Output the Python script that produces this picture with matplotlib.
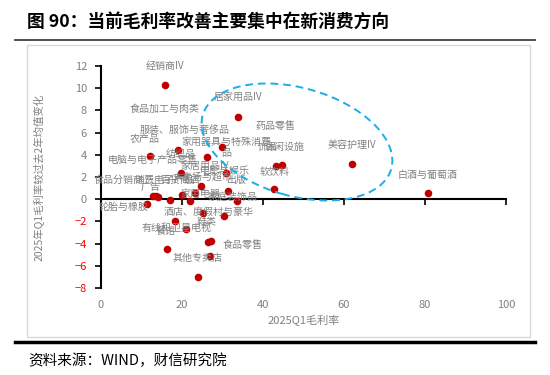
import matplotlib
matplotlib.use("Agg")
import matplotlib.pyplot as plt
from matplotlib.patches import Ellipse, Rectangle
from matplotlib.lines import Line2D

plt.rcParams["font.family"] = ["Noto Sans CJK SC", "DejaVu Sans"]

# Wind consumer industries: 2025Q1 gross margin (%) vs change from 2y average (pct)
industry = [
    "经销商IV", "居家用品IV", "药品零售", "服装、服饰与奢侈品", "电脑与电子产品零售",
    "食品加工与肉类", "美容护理IV", "休闲设施", "饰品", "纺织品",
    "家用器具与特殊消费\n品", "家居用品IV", "软饮料", "出版", "白酒与葡萄酒",
    "大卖场与超市", "百货商店", "食品分销商", "广告", "消费电子产品",
    "农产品", "家用电器", "家庭装饰品", "轮胎与橡胶", "酒店、度假村与豪华",
    "鞋类", "餐馆", "有线和卫星电视", "食品零售", "电影与娱乐",
    "", "其他专卖店", "",
]
gross_margin = [
    15.8, 33.8, 29.9, 19.0, 12.1,
    26.2, 62.0, 44.7, 43.2, 19.8,
    30.9, 24.7, 42.7, 31.3, 80.7,
    23.2, 20.0, 12.8, 13.6, 14.2,
    17.0, 22.0, 33.6, 11.4, 25.2,
    30.4, 18.3, 21.0, 26.4, 27.1,
    16.3, 26.9, 23.9,
]
margin_change = [
    10.3, 7.4, 4.7, 4.4, 3.9,
    3.8, 3.2, 3.1, 3.0, 2.4,
    2.4, 1.2, 0.9, 0.7, 0.6,
    0.6, 0.35, 0.3, 0.25, 0.2,
    -0.05, -0.15, -0.2, -0.45, -1.2,
    -1.5, -2.0, -2.7, -3.9, -3.8,
    -4.5, -5.1, -7.0,
]
xticks = [0, 20, 40, 60, 80, 100]
yticks = [-8, -6, -4, -2, 0, 2, 4, 6, 8, 10, 12]

# label placement (pixel offsets from each dot, as in the source chart)
label_offsets = [
    (0, 19), (0, 20), (53, 20), (7, 20), (3, -5),
    (-42, 48), (0, 19), (3, 18), (-8, 19), (-1, 19),
    (0, 25), (4, 20), (1, 17), (9, 11), (0, 18),
    (8, 16), (-2, 15), (-34, 16), (-5, 9), (6, 17),
    (-25, 61), (10, 7), (-5, 5), (-24, -3), (6, 1),
    (-17, -6), (-10, -10), (-9, 1), (35, -3), (14, 70),
    (0, 0), (-12, -2), (0, 0),
]

grey = "#808080"
fig = plt.figure(figsize=(5.5, 3.75), dpi=100)
ax = fig.add_axes([0.1836, 0.232, 0.7364, 0.592])

ax.scatter(gross_margin, margin_change, s=30, color="#c00000", zorder=3, linewidths=0)
for x, y, name, off in zip(gross_margin, margin_change, industry, label_offsets):
    if name:
        ax.annotate(name, (x, y), xytext=off, textcoords="offset pixels",
                    ha="center", va="center", fontsize=7.2, color=grey,
                    linespacing=1.1, zorder=4)

ax.set_xlim(0, 100)
ax.set_ylim(-8, 12)
ax.set_xticks(xticks)
ax.set_yticks(yticks)
ax.spines["top"].set_visible(False)
ax.spines["right"].set_visible(False)
ax.spines["bottom"].set_position(("data", 0))
ax.spines["bottom"].set_linewidth(1.5)
ax.spines["left"].set_linewidth(1.5)
ax.tick_params(axis="x", direction="out", length=4, width=1.2, labelbottom=False)
ax.tick_params(axis="y", direction="out", length=4, width=1.2, labelsize=8, pad=6)
for lab, v in zip(ax.get_yticklabels(), yticks):
    lab.set_color("#ff0000" if v < 0 else grey)
ax.set_ylabel("2025年Q1毛利率较过去2年均值变化", fontsize=7.5, color=grey, labelpad=22)

sec = ax.secondary_xaxis("bottom")
sec.set_xticks(xticks)
sec.spines["bottom"].set_visible(False)
sec.tick_params(length=0, pad=9, labelsize=8, labelcolor=grey)
sec.set_xlabel("2025Q1毛利率", fontsize=8, color=grey, labelpad=3)

# dashed highlight ring round the new-consumption group
ring = Ellipse((2.97, 2.33), 1.96, 1.08, angle=-16, transform=fig.dpi_scale_trans,
               fill=False, edgecolor="#1aaee8", linestyle=(0, (4, 2.5)), linewidth=1.4)
fig.patches.append(ring)

# frame, title and source
fig.patches.append(Rectangle((0.049, 0.101), 0.915, 0.779, transform=fig.transFigure,
                             fill=False, edgecolor="#d9d9d9", linewidth=1))
fig.lines.append(Line2D([0.027, 0.973], [0.893, 0.893], transform=fig.transFigure,
                        color="#404040", linewidth=1.3))
fig.lines.append(Line2D([0.027, 0.973], [0.088, 0.088], transform=fig.transFigure,
                        color="black", linewidth=2.5))
fig.text(0.049, 0.941, "图 90：当前毛利率改善主要集中在新消费方向", fontsize=12.8,
         fontweight="bold", va="center", ha="left")
fig.text(0.052, 0.038, "资料来源：WIND，财信研究院", fontsize=10.5, style="italic",
         va="center", ha="left")

fig.savefig("out.png", dpi=100)
